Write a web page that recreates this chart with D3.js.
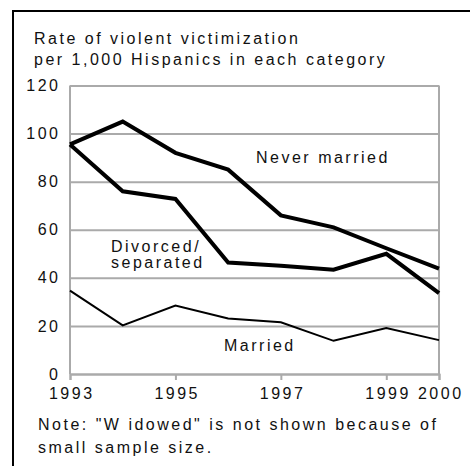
<!DOCTYPE html>
<html>
<head>
<meta charset="utf-8">
<script src="https://cdn.jsdelivr.net/npm/d3@7"></script>
<style>
  body { margin: 0; background: #fff; }
  svg text { font-family: "Liberation Sans", Arial, sans-serif; font-size: 16px; fill: #111; letter-spacing: 2.5px; }
</style>
</head>
<body>
<div id="chart"></div>
<script>
// data
var years = [1993, 1994, 1995, 1996, 1997, 1998, 1999, 2000];
var neverMarried = [95.5, 105, 92, 85, 66, 61, 52.3, 43.8];
var divorced = [95.5, 76, 72.8, 46.4, 45, 43.4, 50, 33.6];
var married = [34.7, 20.2, 28.5, 23.1, 21.5, 13.8, 19.1, 14.1];
var yTicks = [0, 20, 40, 60, 80, 100, 120];
var xTicks = [1993, 1995, 1997, 1999, 2000];

const W = 470, H = 466;
const margin = {top: 85.5, left: 70, right: 31, bottom: 92};

var svg = d3.select("#chart").append("svg")
    .attr("width", W)
    .attr("height", H);

var x = d3.scaleLinear().domain([1993, 2000]).range([margin.left, W - margin.right]);
var y = d3.scaleLinear().domain([0, 120]).range([H - margin.bottom, margin.top]);

// frame: top and left edges only
svg.append("line").attr("x1", 12).attr("x2", W).attr("y1", 11).attr("y2", 11)
    .attr("stroke", "#000").attr("stroke-width", 2);
svg.append("line").attr("x1", 13).attr("x2", 13).attr("y1", 10).attr("y2", H)
    .attr("stroke", "#000").attr("stroke-width", 2);

// grid + y labels
var yAxis = svg.append("g")
    .attr("transform", "translate(" + margin.left + ",0)")
    .call(d3.axisLeft(y).tickValues(yTicks).tickSize(-(W - margin.right - margin.left)).tickPadding(9.5));
yAxis.select(".domain").remove();
yAxis.selectAll(".tick line").attr("stroke", "#aaa").attr("stroke-width", 2);
yAxis.selectAll(".tick text").attr("font-size", null).attr("font-family", null).attr("fill", "#111");

// side borders of plot
[margin.left, W - margin.right].forEach(function (px) {
  svg.append("line").attr("x1", px).attr("x2", px).attr("y1", y(120)).attr("y2", y(0))
      .attr("stroke", "#aaa").attr("stroke-width", 2);
});

// x axis
var xAxis = svg.append("g")
    .attr("transform", "translate(0," + y(0) + ")")
    .call(d3.axisBottom(x).tickValues(xTicks).tickFormat(d3.format("d")).tickSize(6).tickPadding(8));
xAxis.select(".domain").attr("stroke", "#aaa").attr("stroke-width", 2);
xAxis.selectAll(".tick line").attr("stroke", "#aaa").attr("stroke-width", 2);
xAxis.selectAll(".tick text").attr("font-size", null).attr("font-family", null).attr("fill", "#111")
    .attr("dx", 1.25);

var line = d3.line().x(function (d, i) { return x(years[i]); }).y(function (d) { return y(d); });

[[neverMarried, 4], [divorced, 4], [married, 2]].forEach(function (s) {
  svg.append("path").attr("d", line(s[0]))
      .attr("fill", "none").attr("stroke", "#000")
      .attr("stroke-width", s[1]).attr("stroke-linejoin", "miter");
});

function txt(t, tx, ty) {
  svg.append("text").attr("x", tx).attr("y", ty).text(t);
}
txt("Rate of violent victimization", 34, 44);
txt("per 1,000 Hispanics in each category", 34, 64.5);
txt("Never married", 256, 163);
txt("Divorced/", 111, 252);
txt("separated", 111, 268);
txt("Married", 224, 351);
txt("Note: \"W idowed\" is not shown because of", 38, 430);
txt("small sample size.", 38, 453);
</script>
</body>
</html>
